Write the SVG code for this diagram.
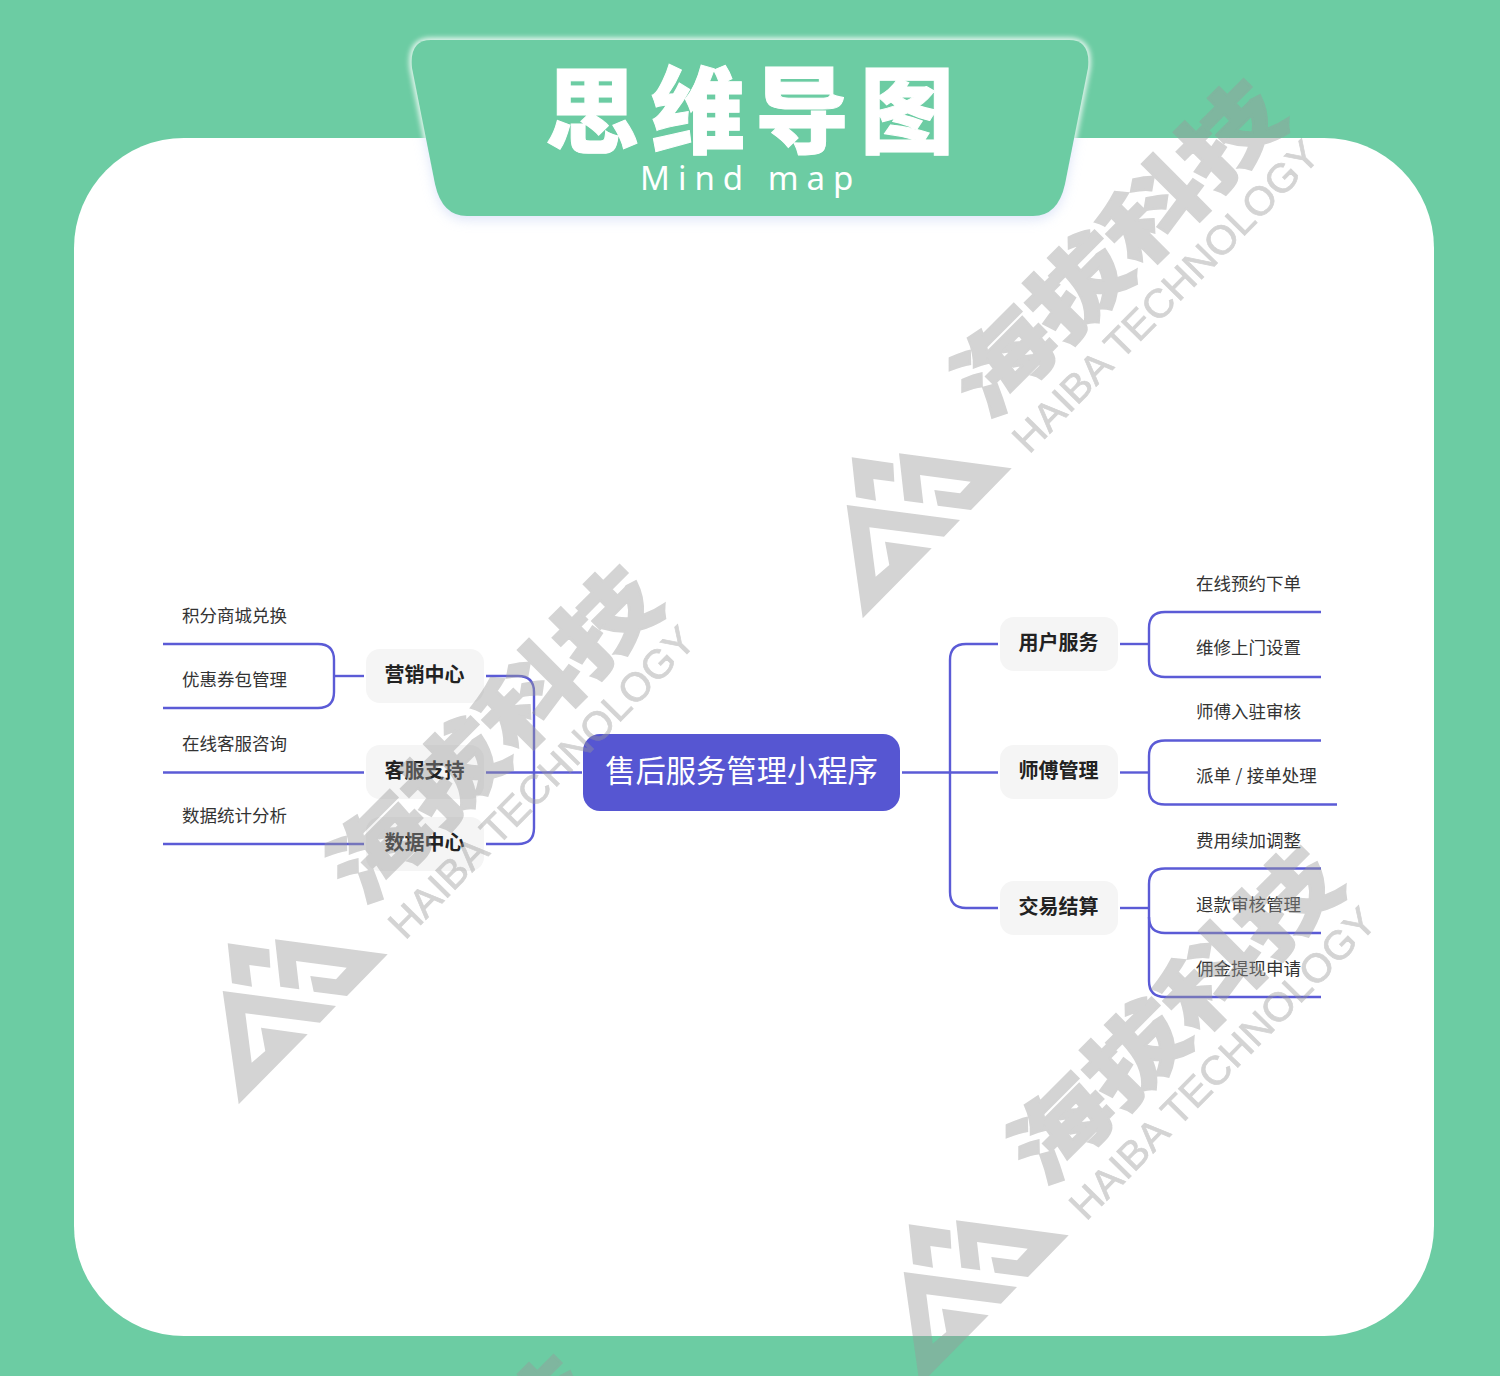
<svg xmlns="http://www.w3.org/2000/svg" width="1500" height="1376" viewBox="0 0 1500 1376">
<style>
text{font-family:"Noto Sans CJK SC","Liberation Sans",sans-serif}
.node rect{fill:#f5f5f5}
.node text{font-size:20px;font-weight:700;fill:#222;text-anchor:middle}
.leaf{font-size:17.5px;fill:#333}
#connectors path{fill:none;stroke:#5b5bd6;stroke-width:2.4}
.wm-cn{font-size:105px;font-weight:900;stroke:#999;stroke-width:2.5}
.wm-en{font-size:40px;font-family:"Liberation Sans",sans-serif;stroke:#999;stroke-width:.7}
</style>
<defs>
<filter id="b3" x="-10%" y="-20%" width="120%" height="140%"><feGaussianBlur stdDeviation="2.5"/></filter>
<filter id="b6" x="-10%" y="-20%" width="120%" height="140%"><feGaussianBlur stdDeviation="6"/></filter>
<clipPath id="above"><rect x="0" y="0" width="1500" height="138"/></clipPath>
<clipPath id="below"><rect x="0" y="138" width="1500" height="200"/></clipPath>
<path id="tabShape" d="M431,40 H1069 Q1091,40 1088,68 L1065,184 Q1058,216 1033,216 H467 Q442,216 435,184 L412,68 Q409,40 431,40 Z"/>
<g id="wm">
<polygon points="851.7,457.3 893.3,463.3 894.3,481.7 873.3,479 876,500.7 856,497.3"/>
<polygon points="899,453.3 1011.7,468.3 971,510 937.7,505.7 934.3,490 960,493.3 970.7,481.7 920,475 923.3,503.3 904.3,500.7"/>
<polygon points="846.7,505 960,520 944,536.7 869.3,527.3 875.7,576.7 889.3,565 885,541.7 931.7,548.3 862.7,618.3"/>
<text class="wm-cn" transform="translate(966,400) rotate(-45) scale(1,.82)" x="0" y="38" textLength="428" lengthAdjust="spacingAndGlyphs">海拔科技</text>
<text class="wm-en" transform="translate(1029,455) rotate(-45.5)" x="0" y="0" textLength="418" lengthAdjust="spacingAndGlyphs">HAIBA TECHNOLOGY</text>
</g>
</defs>
<rect width="1500" height="1376" fill="#6ccca3"/>
<rect id="card" x="74" y="138" width="1360" height="1198" rx="110" ry="110" fill="#fff"/>
<g id="title-tab">
<g clip-path="url(#above)"><use href="#tabShape" fill="#fff" stroke="#fff" stroke-width="5" opacity="0.8" filter="url(#b3)"/></g>
<g clip-path="url(#below)"><use href="#tabShape" fill="#c9d6f5" opacity="0.6" filter="url(#b6)" transform="translate(0,4)"/></g>
<use href="#tabShape" fill="#6ccca3"/>
<text x="545 651 755 860" y="146" font-size="94" font-weight="900" fill="#fff" stroke="#fff" stroke-width="1">思维导图</text>
<text x="640" y="190" style="font-family:'Noto Sans','Liberation Sans',sans-serif" font-size="33" letter-spacing="8" fill="#fff">Mind map</text>
</g>
<g id="connectors">
<path d="M902,772.5 H998"/>
<path d="M998,644 H966 Q950,644 950,660 V892 Q950,908 966,908 H998"/>
<path d="M1120,644 H1149"/>
<path d="M1321,612 H1165 Q1149,612 1149,628 V661 Q1149,677 1165,677 H1321"/>
<path d="M1120,772.5 H1149"/>
<path d="M1321,740.5 H1165 Q1149,740.5 1149,756 V789 Q1149,804.5 1165,804.5 H1337"/>
<path d="M1120,908 H1149"/>
<path d="M1321,868.5 H1165 Q1149,868.5 1149,884 V981 Q1149,997 1165,997 H1321"/>
<path d="M1149,917 Q1149,933 1165,933 H1321"/>
<path d="M364,676 H334"/>
<path d="M163,644 H318 Q334,644 334,660 V692 Q334,708 318,708 H163"/>
<path d="M163,772.5 H364"/>
<path d="M163,844 H364"/>
<path d="M486,676 H518 Q534,676 534,692 V828 Q534,844 518,844 H486"/>
<path d="M486,772.5 H582"/>
</g>
<g id="center"><rect x="583" y="734" width="317" height="77" rx="17" fill="#5656d2"/><text x="741.5" y="782" font-size="30.3" fill="#fff" text-anchor="middle">售后服务管理小程序</text></g>
<g id="n-yonghu" class="node"><rect x="1000" y="617" width="118" height="54" rx="14"/><text x="1058.5" y="650">用户服务</text></g>
<g id="n-shifu" class="node"><rect x="1000" y="745" width="118" height="54" rx="14"/><text x="1058.5" y="778">师傅管理</text></g>
<g id="n-jiaoyi" class="node"><rect x="1000" y="881" width="118" height="54" rx="14"/><text x="1058.5" y="914">交易结算</text></g>
<g id="n-yingxiao" class="node"><rect x="366" y="649" width="118" height="54" rx="14"/><text x="424.5" y="682">营销中心</text></g>
<g id="n-kefu" class="node"><rect x="366" y="745" width="118" height="54" rx="14"/><text x="424.5" y="778">客服支持</text></g>
<g id="n-shuju" class="node"><rect x="366" y="817" width="118" height="54" rx="14"/><text x="424.5" y="850">数据中心</text></g>
<g id="leaves">
<text class="leaf" x="1196" y="590">在线预约下单</text>
<text class="leaf" x="1196" y="654">维修上门设置</text>
<text class="leaf" x="1196" y="718">师傅入驻审核</text>
<text class="leaf" x="1196" y="782" word-spacing="0.5">派单 / 接单处理</text>
<text class="leaf" x="1196" y="847">费用续加调整</text>
<text class="leaf" x="1196" y="911">退款审核管理</text>
<text class="leaf" x="1196" y="975">佣金提现申请</text>
<text class="leaf" x="182" y="622">积分商城兑换</text>
<text class="leaf" x="182" y="686">优惠券包管理</text>
<text class="leaf" x="182" y="750">在线客服咨询</text>
<text class="leaf" x="182" y="822">数据统计分析</text>
</g>
<g id="watermark" fill="#999" opacity="0.425">
<use href="#wm"/>
<use href="#wm" transform="translate(-624,486)"/>
<use href="#wm" transform="translate(57,767)"/>
<use href="#wm" transform="translate(-690,1276)"/>
</g>
</svg>
